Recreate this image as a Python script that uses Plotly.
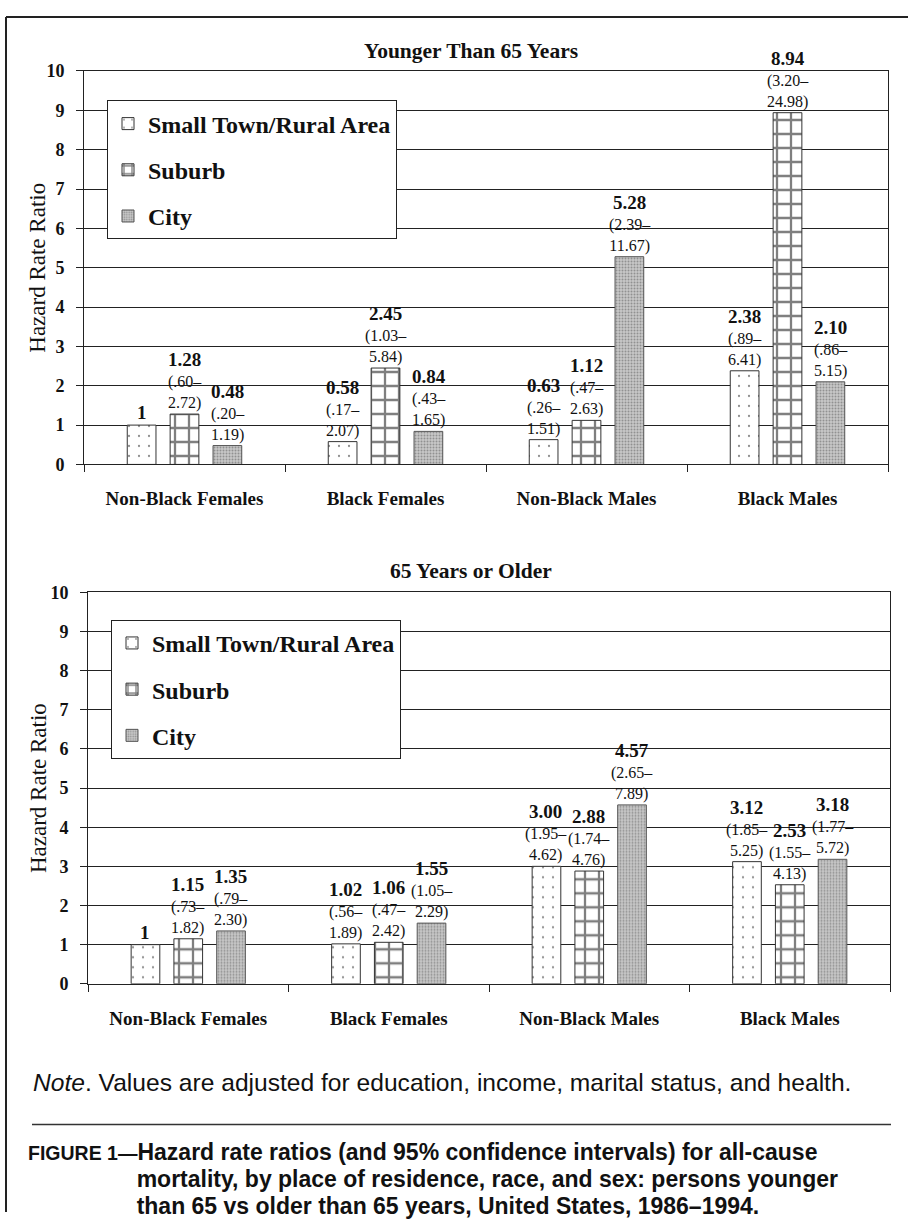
import plotly.graph_objects as go

# ---------------- data ----------------
groups = ["Non-Black Females", "Black Females", "Non-Black Males", "Black Males"]
series = ["Small Town/Rural Area", "Suburb", "City"]

young_rural = [1, 0.58, 0.63, 2.38]
young_suburb = [1.28, 2.45, 1.12, 8.94]
young_city = [0.48, 0.84, 5.28, 2.10]
young_rural_lbl = ["1", "0.58", "0.63", "2.38"]
young_suburb_lbl = ["1.28", "2.45", "1.12", "8.94"]
young_city_lbl = ["0.48", "0.84", "5.28", "2.10"]
young_rural_ci = [None, (".17", "2.07"), (".26", "1.51"), (".89", "6.41")]
young_suburb_ci = [(".60", "2.72"), ("1.03", "5.84"), (".47", "2.63"), ("3.20", "24.98")]
young_city_ci = [(".20", "1.19"), (".43", "1.65"), ("2.39", "11.67"), (".86", "5.15")]

old_rural = [1, 1.02, 3.00, 3.12]
old_suburb = [1.15, 1.06, 2.88, 2.53]
old_city = [1.35, 1.55, 4.57, 3.18]
old_rural_lbl = ["1", "1.02", "3.00", "3.12"]
old_suburb_lbl = ["1.15", "1.06", "2.88", "2.53"]
old_city_lbl = ["1.35", "1.55", "4.57", "3.18"]
old_rural_ci = [None, (".56", "1.89"), ("1.95", "4.62"), ("1.85", "5.25")]
old_suburb_ci = [(".73", "1.82"), (".47", "2.42"), ("1.74", "4.76"), ("1.55", "4.13")]
old_city_ci = [(".79", "2.30"), ("1.05", "2.29"), ("2.65", "7.89"), ("1.77", "5.72")]

y_ticks = list(range(0, 11))
chart_titles = ["Younger Than 65 Years", "65 Years or Older"]
y_title = "Hazard Rate Ratio"
note_text = "<i>Note</i>. Values are adjusted for education, income, marital status, and health."
fig_label = "FIGURE 1—"
fig_caption_lines = [
    "Hazard rate ratios (and 95% confidence intervals) for all-cause",
    "mortality, by place of residence, race, and sex: persons younger",
    "than 65 vs older than 65 years, United States, 1986–1994.",
]

# ---------------- styling ----------------
W, H = 908, 1222
SERIF = "Liberation Serif, Times New Roman, serif"
SANS = "Liberation Sans, Arial, sans-serif"

def px_x(p):
    return p / W

def px_y(p):
    return 1 - p / H

styles = [
    dict(color="white", line=dict(color="#333", width=1),
         pattern=dict(shape=".", fgcolor="#222", bgcolor="white", size=10, solidity=0.04, fillmode="overlay")),
    dict(color="white", line=dict(color="#333", width=1),
         pattern=dict(shape="+", fgcolor="#000", bgcolor="white", size=14, solidity=0.3, fillmode="overlay")),
    dict(color="#b8b8b8", line=dict(color="#555", width=1),
         pattern=dict(shape=".", fgcolor="#5a5a5a", bgcolor="#c8c8c8", size=3, solidity=0.35, fillmode="overlay")),
]

charts = [
    dict(vals=[young_rural, young_suburb, young_city],
         lbls=[young_rural_lbl, young_suburb_lbl, young_city_lbl],
         cis=[young_rural_ci, young_suburb_ci, young_city_ci],
         xdom=[px_x(84), px_x(888)], ydom=[px_y(462), px_y(62)],
         legend=dict(x=px_x(107), y=px_y(92)), title_y=42),
    dict(vals=[old_rural, old_suburb, old_city],
         lbls=[old_rural_lbl, old_suburb_lbl, old_city_lbl],
         cis=[old_rural_ci, old_suburb_ci, old_city_ci],
         xdom=[px_x(88), px_x(890)], ydom=[px_y(990), px_y(592)],
         legend=dict(x=px_x(111), y=px_y(620)), title_y=570),
]

fig = go.Figure()
annotations = []
layout_extra = {}
offsets = [-43, 0, 43]

for ci_idx, ch in enumerate(charts):
    n = "" if ci_idx == 0 else "2"
    xa, ya = "x" + n, "y" + n
    leg = "legend" + n
    for s in range(3):
        fig.add_trace(go.Bar(
            x=groups, y=ch["vals"][s], name=series[s],
            xaxis=xa, yaxis=ya, legend=leg,
            legendgroup=f"{leg}-{s}",
            marker=styles[s], showlegend=True,
        ))
        for g in range(4):
            lbl = ch["lbls"][s][g]
            ci = ch["cis"][s][g]
            txt = f"<b><span style='font-size:19px'>{lbl}</span></b>"
            if ci is not None:
                txt += f"<br>({ci[0]}–<br>{ci[1]})"
            annotations.append(dict(
                x=groups[g], y=ch["vals"][s][g], xref=xa, yref=ya,
                xshift=offsets[s], yanchor="bottom", xanchor="center", showarrow=False,
                text=txt, font=dict(family=SERIF, size=16, color="#111"),
                align="center",
            ))
    layout_extra["xaxis" + n] = dict(
        domain=ch["xdom"], anchor=ya, type="category",
        tickson="boundaries", ticks="outside", ticklen=7, tickcolor="#222",
        showline=True, linecolor="#222", linewidth=1, mirror=True,
        showgrid=False, ticklabelstandoff=17,
        tickfont=dict(family=SERIF, size=19, color="#111", weight="bold"),
    )
    layout_extra["yaxis" + n] = dict(
        domain=ch["ydom"], anchor=xa, range=[0, 10], tickvals=y_ticks,
        ticks="outside", ticklen=7, tickcolor="#222",
        showline=True, linecolor="#222", linewidth=1, mirror=True,
        showgrid=True, gridcolor="#222", gridwidth=1, zeroline=False,
        ticklabelstandoff=8,
        tickfont=dict(family=SERIF, size=18, color="#111", weight="bold"),
    )
    layout_extra[leg] = dict(
        x=ch["legend"]["x"], y=ch["legend"]["y"], xanchor="left", yanchor="top",
        bgcolor="white", bordercolor="#222", borderwidth=1,
        font=dict(family=SERIF, size=24, color="#111", weight="bold"),
        tracegroupgap=12, traceorder="grouped",
    )
    annotations.append(dict(
        x=px_x(471), y=px_y(ch["title_y"]), xref="paper", yref="paper",
        xanchor="center", yanchor="middle",
        text=f"<b>{chart_titles[ci_idx]}</b>", showarrow=False,
        font=dict(family=SERIF, size=21.5, color="#111"),
    ))
    annotations.append(dict(
        x=px_x(38), y=0.5, xref="paper", yref=ya + " domain",
        xanchor="center", yanchor="middle",
        text=y_title, textangle=-90, showarrow=False,
        font=dict(family=SERIF, size=23, color="#111"),
    ))

annotations.append(dict(
    x=px_x(31), y=px_y(1090), xref="paper", yref="paper", xanchor="left", yanchor="middle",
    text=note_text, showarrow=False, font=dict(family=SANS, size=24.6, color="#111"),
))

# caption: one text block with a hanging indent
indent = "\u00a0" * 17
cap_lines = [f"<span style='font-size:19.5px'>{fig_label}</span>{fig_caption_lines[0]}"]
cap_lines += [indent + ln for ln in fig_caption_lines[1:]]
cap_html = "<br>".join(f"<b><span style='font-size:23px'>{ln}</span></b>" for ln in cap_lines)
annotations.append(dict(
    x=px_x(26), y=px_y(1188), xref="paper", yref="paper",
    xanchor="left", yanchor="middle", align="left",
    text=cap_html, showarrow=False,
    font=dict(family=SANS, size=20.6, color="#111"),
))

shapes = [
    dict(type="line", xref="paper", yref="paper", x0=px_x(6), x1=1, y0=px_y(7), y1=px_y(7),
         line=dict(color="#222", width=2)),
    dict(type="line", xref="paper", yref="paper", x0=px_x(6), x1=px_x(6), y0=px_y(7), y1=0,
         line=dict(color="#222", width=2)),
    dict(type="line", xref="paper", yref="paper", x0=px_x(32), x1=px_x(891), y0=px_y(1133), y1=px_y(1133),
         line=dict(color="#333", width=1.5)),
]

fig.update_layout(
    width=W, height=H, margin=dict(l=0, r=0, t=0, b=0),
    paper_bgcolor="white", plot_bgcolor="white",
    barmode="group", bargap=0.36, bargroupgap=0.33,
    annotations=annotations, shapes=shapes,
    font=dict(family=SERIF, color="#111"),
    **layout_extra,
)

fig.write_html(
    "out.html",
    config={"displayModeBar": False},
    post_script=("var gd=document.getElementById('{plot_id}');"
                 "document.documentElement.style.margin='0';document.body.style.margin='0';"
                 "gd.style.position='fixed';gd.style.left='0px';gd.style.top='0px';"),
)
